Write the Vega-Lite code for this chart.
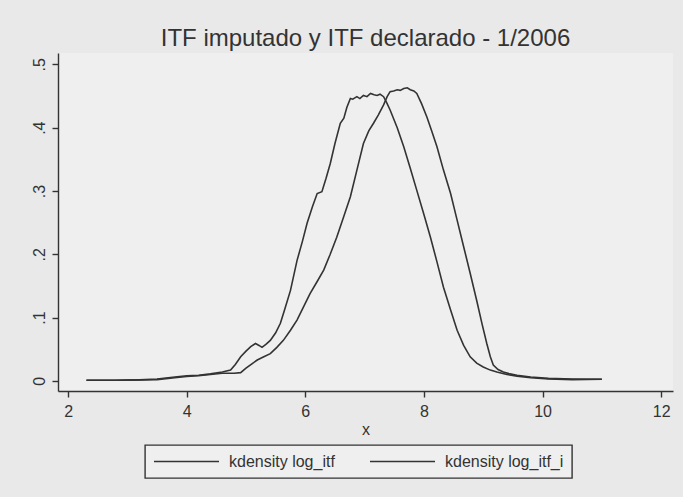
{
  "$schema": "https://vega.github.io/schema/vega-lite/v6.json",
  "width": 615,
  "height": 338,
  "autosize": {"type": "none"},
  "padding": {"left": 58, "top": 53, "right": 10, "bottom": 106},
  "background": "#e9e9e9",
  "title": {
    "text": "ITF imputado y ITF declarado - 1/2006",
    "font": "Liberation Sans",
    "fontSize": 24,
    "fontWeight": "normal",
    "color": "#333333",
    "anchor": "middle",
    "frame": "group",
    "offset": 2
  },
  "config": {
    "font": "Liberation Sans",
    "view": {"fill": "#efefef", "stroke": null}
  },
  "data": {
    "values": [
      {"x": 2.31, "density": 0.001, "series": "kdensity log_itf"},
      {"x": 2.8, "density": 0.001, "series": "kdensity log_itf"},
      {"x": 3.2, "density": 0.0015, "series": "kdensity log_itf"},
      {"x": 3.5, "density": 0.003, "series": "kdensity log_itf"},
      {"x": 3.8, "density": 0.006, "series": "kdensity log_itf"},
      {"x": 4.0, "density": 0.008, "series": "kdensity log_itf"},
      {"x": 4.2, "density": 0.009, "series": "kdensity log_itf"},
      {"x": 4.4, "density": 0.011, "series": "kdensity log_itf"},
      {"x": 4.6, "density": 0.014, "series": "kdensity log_itf"},
      {"x": 4.74, "density": 0.017, "series": "kdensity log_itf"},
      {"x": 4.82, "density": 0.026, "series": "kdensity log_itf"},
      {"x": 4.91, "density": 0.038, "series": "kdensity log_itf"},
      {"x": 5.0, "density": 0.047, "series": "kdensity log_itf"},
      {"x": 5.08, "density": 0.054, "series": "kdensity log_itf"},
      {"x": 5.16, "density": 0.059, "series": "kdensity log_itf"},
      {"x": 5.22, "density": 0.056, "series": "kdensity log_itf"},
      {"x": 5.27, "density": 0.053, "series": "kdensity log_itf"},
      {"x": 5.34, "density": 0.058, "series": "kdensity log_itf"},
      {"x": 5.41, "density": 0.064, "series": "kdensity log_itf"},
      {"x": 5.5, "density": 0.076, "series": "kdensity log_itf"},
      {"x": 5.58, "density": 0.091, "series": "kdensity log_itf"},
      {"x": 5.66, "density": 0.115, "series": "kdensity log_itf"},
      {"x": 5.75, "density": 0.143, "series": "kdensity log_itf"},
      {"x": 5.86, "density": 0.19, "series": "kdensity log_itf"},
      {"x": 5.95, "density": 0.22, "series": "kdensity log_itf"},
      {"x": 6.03, "density": 0.249, "series": "kdensity log_itf"},
      {"x": 6.12, "density": 0.275, "series": "kdensity log_itf"},
      {"x": 6.2, "density": 0.296, "series": "kdensity log_itf"},
      {"x": 6.28, "density": 0.299, "series": "kdensity log_itf"},
      {"x": 6.35, "density": 0.32, "series": "kdensity log_itf"},
      {"x": 6.42, "density": 0.343, "series": "kdensity log_itf"},
      {"x": 6.5, "density": 0.375, "series": "kdensity log_itf"},
      {"x": 6.59, "density": 0.407, "series": "kdensity log_itf"},
      {"x": 6.65, "density": 0.415, "series": "kdensity log_itf"},
      {"x": 6.7, "density": 0.432, "series": "kdensity log_itf"},
      {"x": 6.76, "density": 0.446, "series": "kdensity log_itf"},
      {"x": 6.8, "density": 0.445, "series": "kdensity log_itf"},
      {"x": 6.87, "density": 0.449, "series": "kdensity log_itf"},
      {"x": 6.92, "density": 0.446, "series": "kdensity log_itf"},
      {"x": 6.98, "density": 0.451, "series": "kdensity log_itf"},
      {"x": 7.04, "density": 0.449, "series": "kdensity log_itf"},
      {"x": 7.1, "density": 0.454, "series": "kdensity log_itf"},
      {"x": 7.16, "density": 0.452, "series": "kdensity log_itf"},
      {"x": 7.21, "density": 0.451, "series": "kdensity log_itf"},
      {"x": 7.26, "density": 0.453, "series": "kdensity log_itf"},
      {"x": 7.32, "density": 0.449, "series": "kdensity log_itf"},
      {"x": 7.37, "density": 0.44, "series": "kdensity log_itf"},
      {"x": 7.43, "density": 0.428, "series": "kdensity log_itf"},
      {"x": 7.55, "density": 0.4, "series": "kdensity log_itf"},
      {"x": 7.66, "density": 0.37, "series": "kdensity log_itf"},
      {"x": 7.77, "density": 0.336, "series": "kdensity log_itf"},
      {"x": 7.88, "density": 0.301, "series": "kdensity log_itf"},
      {"x": 8.0, "density": 0.263, "series": "kdensity log_itf"},
      {"x": 8.11, "density": 0.227, "series": "kdensity log_itf"},
      {"x": 8.22, "density": 0.188, "series": "kdensity log_itf"},
      {"x": 8.33, "density": 0.148, "series": "kdensity log_itf"},
      {"x": 8.45, "density": 0.112, "series": "kdensity log_itf"},
      {"x": 8.56, "density": 0.08, "series": "kdensity log_itf"},
      {"x": 8.67, "density": 0.056, "series": "kdensity log_itf"},
      {"x": 8.78, "density": 0.038, "series": "kdensity log_itf"},
      {"x": 8.89, "density": 0.028, "series": "kdensity log_itf"},
      {"x": 9.0, "density": 0.022, "series": "kdensity log_itf"},
      {"x": 9.12, "density": 0.017, "series": "kdensity log_itf"},
      {"x": 9.23, "density": 0.014, "series": "kdensity log_itf"},
      {"x": 9.4, "density": 0.01, "series": "kdensity log_itf"},
      {"x": 9.57, "density": 0.0075, "series": "kdensity log_itf"},
      {"x": 9.8, "density": 0.005, "series": "kdensity log_itf"},
      {"x": 10.1, "density": 0.003, "series": "kdensity log_itf"},
      {"x": 10.5, "density": 0.002, "series": "kdensity log_itf"},
      {"x": 11.0, "density": 0.0025, "series": "kdensity log_itf"},
      {"x": 2.31, "density": 0.001, "series": "kdensity log_itf_i"},
      {"x": 2.8, "density": 0.001, "series": "kdensity log_itf_i"},
      {"x": 3.2, "density": 0.0015, "series": "kdensity log_itf_i"},
      {"x": 3.5, "density": 0.002, "series": "kdensity log_itf_i"},
      {"x": 3.8, "density": 0.005, "series": "kdensity log_itf_i"},
      {"x": 4.0, "density": 0.007, "series": "kdensity log_itf_i"},
      {"x": 4.2, "density": 0.008, "series": "kdensity log_itf_i"},
      {"x": 4.4, "density": 0.01, "series": "kdensity log_itf_i"},
      {"x": 4.6, "density": 0.012, "series": "kdensity log_itf_i"},
      {"x": 4.8, "density": 0.012, "series": "kdensity log_itf_i"},
      {"x": 4.91, "density": 0.013, "series": "kdensity log_itf_i"},
      {"x": 5.0, "density": 0.02, "series": "kdensity log_itf_i"},
      {"x": 5.1, "density": 0.027, "series": "kdensity log_itf_i"},
      {"x": 5.19, "density": 0.033, "series": "kdensity log_itf_i"},
      {"x": 5.3, "density": 0.038, "series": "kdensity log_itf_i"},
      {"x": 5.41, "density": 0.043, "series": "kdensity log_itf_i"},
      {"x": 5.52, "density": 0.053, "series": "kdensity log_itf_i"},
      {"x": 5.63, "density": 0.064, "series": "kdensity log_itf_i"},
      {"x": 5.75, "density": 0.08, "series": "kdensity log_itf_i"},
      {"x": 5.86, "density": 0.096, "series": "kdensity log_itf_i"},
      {"x": 5.97, "density": 0.117, "series": "kdensity log_itf_i"},
      {"x": 6.08, "density": 0.138, "series": "kdensity log_itf_i"},
      {"x": 6.2, "density": 0.157, "series": "kdensity log_itf_i"},
      {"x": 6.31, "density": 0.175, "series": "kdensity log_itf_i"},
      {"x": 6.42, "density": 0.2, "series": "kdensity log_itf_i"},
      {"x": 6.53, "density": 0.227, "series": "kdensity log_itf_i"},
      {"x": 6.65, "density": 0.26, "series": "kdensity log_itf_i"},
      {"x": 6.76, "density": 0.291, "series": "kdensity log_itf_i"},
      {"x": 6.87, "density": 0.333, "series": "kdensity log_itf_i"},
      {"x": 6.98, "density": 0.375, "series": "kdensity log_itf_i"},
      {"x": 7.07, "density": 0.395, "series": "kdensity log_itf_i"},
      {"x": 7.15, "density": 0.407, "series": "kdensity log_itf_i"},
      {"x": 7.23, "density": 0.42, "series": "kdensity log_itf_i"},
      {"x": 7.32, "density": 0.436, "series": "kdensity log_itf_i"},
      {"x": 7.38, "density": 0.449, "series": "kdensity log_itf_i"},
      {"x": 7.43, "density": 0.457, "series": "kdensity log_itf_i"},
      {"x": 7.49, "density": 0.458, "series": "kdensity log_itf_i"},
      {"x": 7.55, "density": 0.46, "series": "kdensity log_itf_i"},
      {"x": 7.6, "density": 0.459, "series": "kdensity log_itf_i"},
      {"x": 7.66, "density": 0.462, "series": "kdensity log_itf_i"},
      {"x": 7.72, "density": 0.463, "series": "kdensity log_itf_i"},
      {"x": 7.77, "density": 0.46, "series": "kdensity log_itf_i"},
      {"x": 7.83, "density": 0.458, "series": "kdensity log_itf_i"},
      {"x": 7.88, "density": 0.454, "series": "kdensity log_itf_i"},
      {"x": 7.96, "density": 0.438, "series": "kdensity log_itf_i"},
      {"x": 8.05, "density": 0.417, "series": "kdensity log_itf_i"},
      {"x": 8.13, "density": 0.395, "series": "kdensity log_itf_i"},
      {"x": 8.22, "density": 0.37, "series": "kdensity log_itf_i"},
      {"x": 8.33, "density": 0.333, "series": "kdensity log_itf_i"},
      {"x": 8.45, "density": 0.296, "series": "kdensity log_itf_i"},
      {"x": 8.56, "density": 0.254, "series": "kdensity log_itf_i"},
      {"x": 8.67, "density": 0.212, "series": "kdensity log_itf_i"},
      {"x": 8.78, "density": 0.17, "series": "kdensity log_itf_i"},
      {"x": 8.89, "density": 0.127, "series": "kdensity log_itf_i"},
      {"x": 8.98, "density": 0.09, "series": "kdensity log_itf_i"},
      {"x": 9.06, "density": 0.059, "series": "kdensity log_itf_i"},
      {"x": 9.12, "density": 0.038, "series": "kdensity log_itf_i"},
      {"x": 9.17, "density": 0.025, "series": "kdensity log_itf_i"},
      {"x": 9.25, "density": 0.018, "series": "kdensity log_itf_i"},
      {"x": 9.34, "density": 0.014, "series": "kdensity log_itf_i"},
      {"x": 9.45, "density": 0.011, "series": "kdensity log_itf_i"},
      {"x": 9.57, "density": 0.009, "series": "kdensity log_itf_i"},
      {"x": 9.8, "density": 0.006, "series": "kdensity log_itf_i"},
      {"x": 10.1, "density": 0.004, "series": "kdensity log_itf_i"},
      {"x": 10.5, "density": 0.003, "series": "kdensity log_itf_i"},
      {"x": 11.0, "density": 0.0025, "series": "kdensity log_itf_i"}
    ]
  },
  "mark": {"type": "line", "strokeWidth": 1.6, "interpolate": "linear"},
  "encoding": {
    "x": {
      "field": "x",
      "type": "quantitative",
      "scale": {"domain": [1.83, 12.2], "nice": false, "zero": false},
      "axis": {
        "values": [2, 4, 6, 8, 10, 12],
        "title": "x",
        "titleFont": "Liberation Sans",
        "titleFontSize": 16,
        "titleFontWeight": "normal",
        "titleColor": "#333333",
        "titlePadding": 2,
        "labelFont": "Liberation Sans",
        "labelFontSize": 16,
        "labelColor": "#333333",
        "labelPadding": 6,
        "tickSize": 6,
        "tickColor": "#333333",
        "domainColor": "#333333",
        "domainWidth": 1.4,
        "tickWidth": 1.4,
        "grid": false
      }
    },
    "y": {
      "field": "density",
      "type": "quantitative",
      "scale": {"domain": [-0.016, 0.518], "nice": false, "zero": false},
      "axis": {
        "values": [0, 0.1, 0.2, 0.3, 0.4, 0.5],
        "labelExpr": "datum.value == 0 ? '0' : replace(format(datum.value, '.1f'), '0.', '.')",
        "title": null,
        "labelAngle": -90,
        "labelAlign": "center",
        "labelBaseline": "bottom",
        "labelFont": "Liberation Sans",
        "labelFontSize": 16,
        "labelColor": "#333333",
        "labelPadding": 5,
        "tickSize": 6,
        "tickColor": "#333333",
        "domainColor": "#333333",
        "domainWidth": 1.4,
        "tickWidth": 1.4,
        "grid": false
      }
    },
    "color": {
      "field": "series",
      "type": "nominal",
      "scale": {"domain": ["kdensity log_itf", "kdensity log_itf_i"], "range": ["#333333", "#333333"]},
      "legend": {
        "orient": "none",
        "legendX": 87,
        "legendY": 392,
        "direction": "horizontal",
        "columns": 2,
        "title": null,
        "symbolType": "stroke",
        "symbolSize": 4225,
        "symbolStrokeWidth": 1.6,
        "clipHeight": 17,
        "labelFont": "Liberation Sans",
        "labelFontSize": 16,
        "labelColor": "#333333",
        "labelOffset": 9,
        "columnPadding": 34,
        "padding": 8,
        "strokeColor": "#333333",
        "fillColor": "#efefef",
        "labelLimit": 300,
        "encode": {"legend": {"update": {"strokeWidth": {"value": 1.4}}}}
      }
    }
  }
}
